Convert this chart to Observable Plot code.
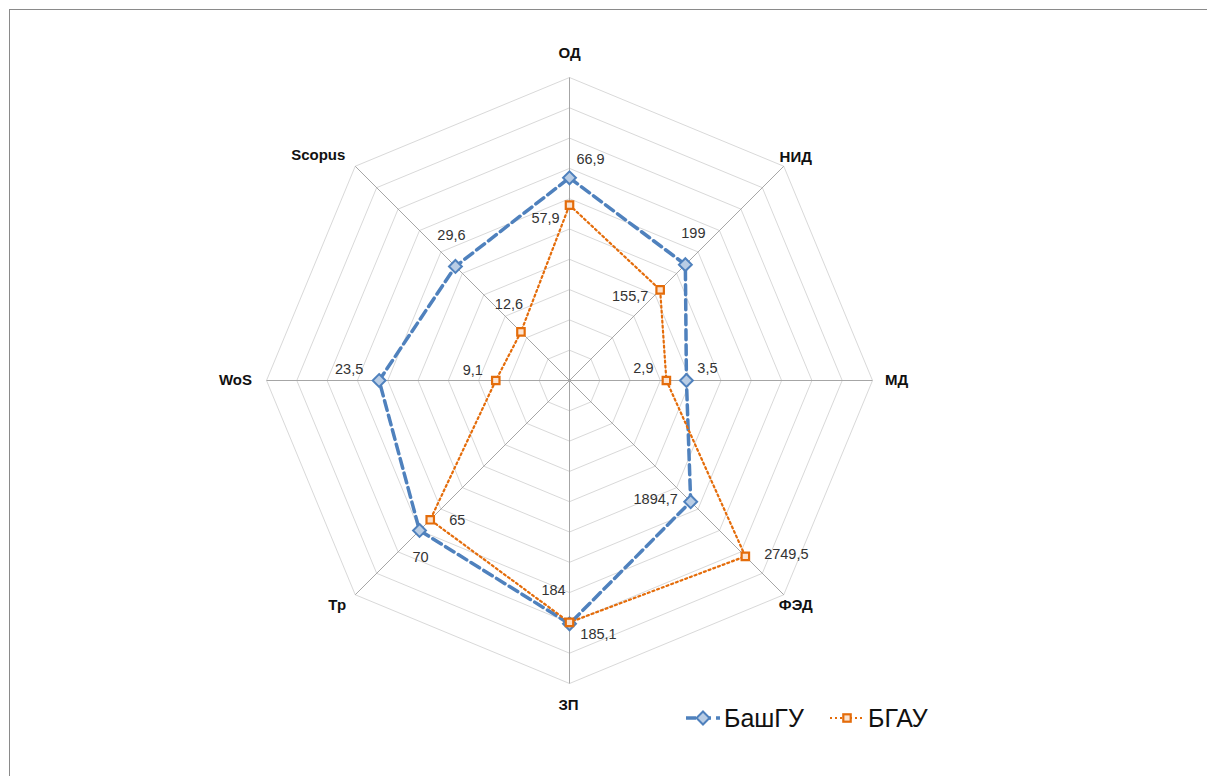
<!DOCTYPE html>
<html>
<head>
<meta charset="utf-8">
<script src="https://cdn.jsdelivr.net/npm/d3@7"></script>
<script src="https://cdn.jsdelivr.net/npm/@observablehq/plot@0.6"></script>
<style>
  html, body { margin: 0; padding: 0; background: #fff; }
  #wrap { position: relative; width: 1207px; height: 776px; overflow: hidden; font-family: "Liberation Sans", Arial, sans-serif; }
  #frame { position: absolute; left: 9px; top: 9px; width: 1210px; height: 780px; border-top: 1.5px solid #8a8a8a; border-left: 1.5px solid #8a8a8a; }
  #chart { position: absolute; left: 0; top: 0; }
  .sw { position: absolute; display: block; }
  .lt { position: absolute; font-size: 25px; line-height: 28px; color: #111; white-space: nowrap; }
</style>
</head>
<body>
<div id="wrap">
  <div id="frame"></div>
  <div id="chart"></div>
</div>
<script>
// ---- data ----
const axes = ["ОД", "НИД", "МД", "ФЭД", "ЗП", "Тр", "WoS", "Scopus"];
const seriesNames = ["БашГУ", "БГАУ"];
const bashgu = [66.9, 199, 3.5, 1894.7, 185.1, 70, 23.5, 29.6];
const bgau = [57.9, 155.7, 2.9, 2749.5, 184, 65, 9.1, 12.6];
// per-axis scale maximum (outer ring)
const axisMax = [100, 368, 9.07, 3350, 230.5, 100, 37.4, 55.6];
const ringCount = 10;

// ---- layout ----
const W = 1207, H = 776, cx = 569, cy = 380, R = 303;
const blue = "#4F81BD", blueFill = "#B9CDE5";
const orange = "#E46C0A", orangeFill = "#FBE3D0";
// label nudges in pixels [dx, dy]
const axisLabelNudge = [[0, -24], [12, -9], [24, 0], [12, 10], [-1, 22], [-18, 10], [-31, 0], [-37, -11]];
const valueNudge = {
  "БашГУ": [[21, -18], [8, -31], [21, -12], [-35, -2], [29, 11], [1, 27], [-30, -11], [-4, -31]],
  "БГАУ": [[-24, 13], [-30, 7], [-23, -12], [41, -2], [-16, -32], [27, 1], [-23, -10], [-12, -28]]
};
// legend placement: [swatch left, text left]
const legendPos = [[685, 724], [829, 868]];
const legendTop = 705;

const ang = i => i * Math.PI / 4;
const px = (i, r) => r * Math.sin(ang(i));
const py = (i, r) => r * Math.cos(ang(i));
const fmt = v => String(v).replace(".", ",");

const rings = [];
for (let k = 1; k <= ringCount; k++) {
  for (let i = 0; i <= axes.length; i++) {
    const j = i % axes.length;
    rings.push({level: k, x: px(j, k / ringCount), y: py(j, k / ringCount)});
  }
}
const spokes = axes.map((a, i) => ({x: px(i, 1), y: py(i, 1)}));
const axisLabels = axes.map((a, i) => ({
  name: a,
  x: px(i, 1) + axisLabelNudge[i][0] / R,
  y: py(i, 1) - axisLabelNudge[i][1] / R
}));

function seriesRows(name, vals) {
  return vals.map((v, i) => ({series: name, i, v, x: px(i, v / axisMax[i]), y: py(i, v / axisMax[i])}));
}
const rowsA = seriesRows("БашГУ", bashgu);
const rowsB = seriesRows("БГАУ", bgau);
const closed = rows => rows.concat([rows[0]]);
const labelRows = rows => rows.map(d => ({
  text: fmt(d.v),
  x: d.x + valueNudge[d.series][d.i][0] / R,
  y: d.y - valueNudge[d.series][d.i][1] / R
}));

const chart = Plot.plot({
  width: W,
  height: H,
  margin: 0,
  x: {domain: [-cx / R, (W - cx) / R], axis: null},
  y: {domain: [-(H - cy) / R, cy / R], axis: null},
  style: {background: "transparent", fontFamily: "'Liberation Sans', Arial, sans-serif"},
  marks: [
    Plot.line(rings, {x: "x", y: "y", z: "level", stroke: "#D9D9D9", strokeWidth: 1}),
    Plot.link(spokes, {x1: () => 0, y1: () => 0, x2: "x", y2: "y", stroke: "#A6A6A6", strokeWidth: 1}),
    Plot.text(axisLabels, {x: "x", y: "y", text: "name", fontSize: 15, fontWeight: "bold", fill: "#111"}),
    Plot.line(closed(rowsA), {x: "x", y: "y", stroke: blue, strokeWidth: 3.5, strokeDasharray: "10,5"}),
    Plot.line(closed(rowsB), {x: "x", y: "y", stroke: orange, strokeWidth: 2.2, strokeDasharray: "2,3"}),
    Plot.dot(rowsA, {x: "x", y: "y", symbol: "diamond2", r: 5.8, fill: blueFill, stroke: blue, strokeWidth: 2}),
    Plot.dot(rowsB, {x: "x", y: "y", symbol: "square", r: 4.2, fill: orangeFill, stroke: orange, strokeWidth: 2.2}),
    Plot.text(labelRows(rowsA), {x: "x", y: "y", text: "text", fontSize: 14.5, fill: "#333"}),
    Plot.text(labelRows(rowsB), {x: "x", y: "y", text: "text", fontSize: 14.5, fill: "#333"})
  ]
});
document.getElementById("chart").appendChild(chart);

// ---- legend ----
function swatch(kind) {
  const ns = "http://www.w3.org/2000/svg";
  const s = document.createElementNS(ns, "svg");
  s.setAttribute("width", 36); s.setAttribute("height", 26);
  s.setAttribute("class", "sw");
  const l = document.createElementNS(ns, "line");
  l.setAttribute("x1", 1); l.setAttribute("x2", 35); l.setAttribute("y1", 13); l.setAttribute("y2", 13);
  if (kind === 0) {
    l.setAttribute("stroke", blue); l.setAttribute("stroke-width", 3.5); l.setAttribute("stroke-dasharray", "10,5");
    s.appendChild(l);
    const p = document.createElementNS(ns, "path");
    p.setAttribute("d", "M18,6.5L24.5,13L18,19.5L11.5,13Z");
    p.setAttribute("fill", blueFill); p.setAttribute("stroke", blue); p.setAttribute("stroke-width", 2);
    s.appendChild(p);
  } else {
    l.setAttribute("stroke", orange); l.setAttribute("stroke-width", 2.2); l.setAttribute("stroke-dasharray", "2,3");
    s.appendChild(l);
    const r = document.createElementNS(ns, "rect");
    r.setAttribute("x", 14.3); r.setAttribute("y", 9.3); r.setAttribute("width", 7.4); r.setAttribute("height", 7.4);
    r.setAttribute("fill", orangeFill); r.setAttribute("stroke", orange); r.setAttribute("stroke-width", 2.2);
    s.appendChild(r);
  }
  return s;
}
const wrap = document.getElementById("wrap");
seriesNames.forEach((name, k) => {
  const s = swatch(k);
  s.style.left = legendPos[k][0] + "px";
  s.style.top = legendTop + "px";
  wrap.appendChild(s);
  const t = document.createElement("div");
  t.className = "lt";
  t.textContent = name;
  t.style.left = legendPos[k][1] + "px";
  t.style.top = (legendTop - 1) + "px";
  wrap.appendChild(t);
});
</script>
</body>
</html>
